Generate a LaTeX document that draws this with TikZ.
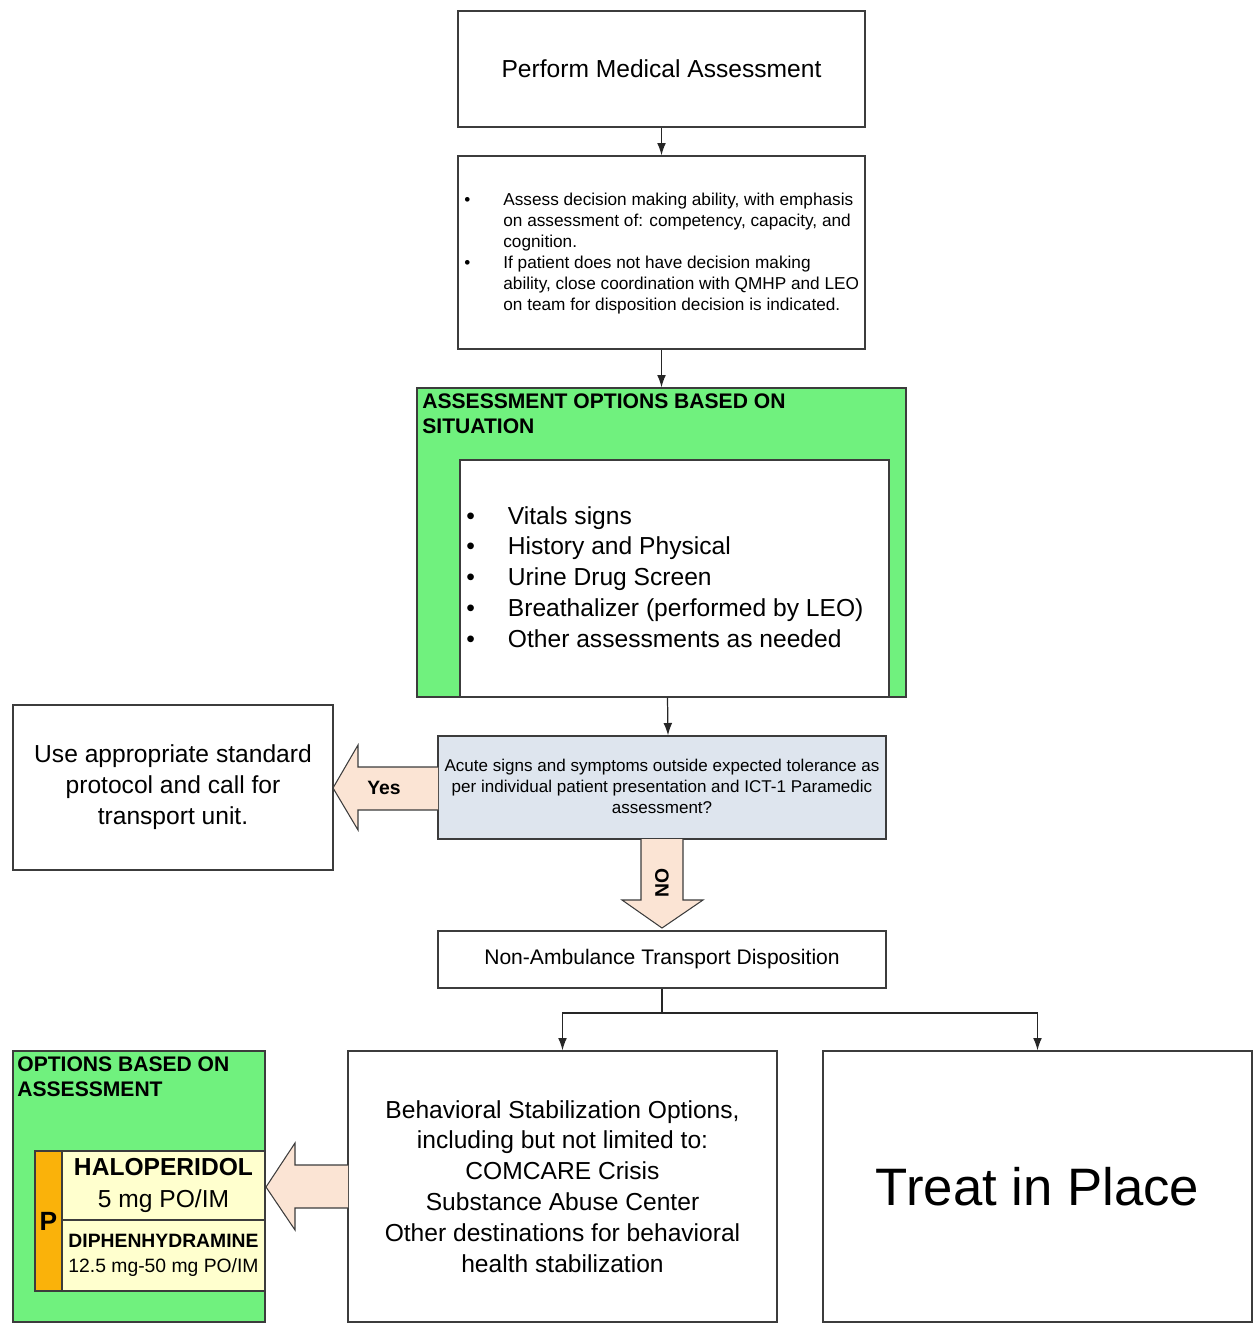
\documentclass[tikz,border=0pt]{standalone}
\usepackage{fontspec}
\setmainfont{Liberation Sans}
\usepackage{array}
\usetikzlibrary{arrows.meta}
\definecolor{optgreen}{RGB}{112,241,126}
\definecolor{askblue}{RGB}{222,229,238}
\definecolor{peach}{RGB}{251,228,212}
\definecolor{cream}{RGB}{255,255,206}
\definecolor{orangebar}{RGB}{250,178,10}
\definecolor{edge}{RGB}{60,60,60}

\tikzstyle{box} = [rectangle,draw=edge,line width=0.8pt,fill=white,inner sep=0pt]
\tikzstyle{greenbox} = [rectangle,draw=edge,line width=0.8pt,fill=optgreen,inner sep=0pt]
\tikzstyle{blockarrow} = [draw=edge,line width=0.6pt,fill=peach]
\tikzstyle{flow} = [-{Latex[length=7pt,width=5pt]},line width=0.7pt,color=black!85]

\begin{document}
\begin{tikzpicture}[x=0.02cm,y=-0.02cm]
	\useasboundingbox (0,0) rectangle (1259,1331);
	% top of the chart
	\node[box,minimum width=8.14cm,minimum height=2.32cm,font=\fontsize{14}{17}\selectfont] (perf) at (661.5,69) {Perform Medical Assessment};
	\node[box,minimum width=8.14cm,minimum height=3.86cm] (decide) at (661.5,252.5) {};
	\node[anchor=north west,inner sep=0pt] (decidet) at (464,191) {\fontsize{9.8}{11.9}\selectfont
		\begin{tabular}{@{}l@{\hspace{0.66cm}}>{\raggedright\arraybackslash}p{7.4cm}@{}}
		\textbullet & Assess decision making ability, with emphasis\newline on assessment of: competency, capacity, and\newline cognition.\\
		\textbullet & If patient does not have decision making\newline ability, close coordination with QMHP and LEO\newline on team for disposition decision is indicated.
		\end{tabular}};
	% assessment options
	\node[greenbox,minimum width=9.78cm,minimum height=6.18cm] (sit) at (661.5,542.5) {};
	\node[anchor=north west,inner sep=0pt,align=left,font=\fontsize{12}{14.5}\selectfont\bfseries] (sitt) at (422,393) {ASSESSMENT OPTIONS BASED ON\\SITUATION};
	\node[box,minimum width=8.58cm,minimum height=4.74cm] (list) at (674.5,578.5) {};
	\node[anchor=north west,inner sep=0pt] (listt) at (466,502) {\fontsize{14}{17.6}\selectfont
		\begin{tabular}{@{}l@{\hspace{0.66cm}}l@{}}
		\textbullet & Vitals signs\\
		\textbullet & History and Physical\\
		\textbullet & Urine Drug Screen\\
		\textbullet & Breathalizer (performed by LEO)\\
		\textbullet & Other assessments as needed
		\end{tabular}};
	% decision
	\node[box,fill=askblue,minimum width=8.96cm,minimum height=2.06cm] (acute) at (662,787.5) {};
	\node[align=center,inner sep=0pt,font=\fontsize{9.7}{11.9}\selectfont] (acutet) at (662,786) {Acute signs and symptoms outside expected tolerance as\\per individual patient presentation and ICT-1 Paramedic\\assessment?};
	\node[box,minimum width=6.4cm,minimum height=3.3cm,align=center,font=\fontsize{14}{17.6}\selectfont] (proto) at (173,787.5) {Use appropriate standard\\protocol and call for\\transport unit.};
	\draw[blockarrow] (438,767) -- (358,767) -- (358,745) -- (333,788) -- (358,830) -- (358,810) -- (438,810);
	\node[font=\bfseries\fontsize{11}{13}\selectfont] (yes) at (384,788) {Yes};
	\draw[blockarrow] (641,839) -- (641,900) -- (622,900) -- (662,928) -- (703,900) -- (683,900) -- (683,839);
	\node[rotate=90,font=\bfseries\fontsize{11}{13}\selectfont] (no) at (662,883) {NO};
	\node[box,minimum width=8.96cm,minimum height=1.14cm,font=\fontsize{12}{14}\selectfont] (nonamb) at (662,959.5) {Non-Ambulance Transport Disposition};
	% bottom row
	\node[box,minimum width=8.58cm,minimum height=5.42cm,align=center,font=\fontsize{14}{17.6}\selectfont] (behav) at (562.5,1186.5) {Behavioral Stabilization Options,\\including but not limited to:\\COMCARE Crisis\\Substance Abuse Center\\Other destinations for behavioral\\health stabilization};
	\node[box,minimum width=8.58cm,minimum height=5.42cm,font=\fontsize{30}{36}\selectfont] (treat) at (1037.5,1186.5) {Treat in Place};
	\node[greenbox,minimum width=5.04cm,minimum height=5.42cm] (opt) at (139,1186.5) {};
	\node[anchor=north west,inner sep=0pt,align=left,font=\fontsize{12}{14.5}\selectfont\bfseries] (optt) at (17,1056) {OPTIONS BASED ON\\ASSESSMENT};
	\node[box,fill=orangebar,minimum width=0.54cm,minimum height=2.8cm,font=\fontsize{15}{17}\selectfont\bfseries] (pbar) at (48.5,1221) {P};
	\node[box,fill=cream,minimum width=4.06cm,minimum height=1.38cm,align=center,font=\fontsize{14}{17}\selectfont] (halo) at (163.5,1185.5) {\bfseries HALOPERIDOL\\[1pt]5 mg PO/IM};
	\node[box,fill=cream,minimum width=4.06cm,minimum height=1.42cm,align=center,font=\fontsize{11}{13}\selectfont] (diph) at (163.5,1255.5) {\fontsize{11}{13}\selectfont\bfseries DIPHENHYDRAMINE\\[1.5pt]12.5 mg-50 mg PO/IM};
	\draw[blockarrow] (348,1165) -- (295,1165) -- (295,1143) -- (266,1187) -- (295,1230) -- (295,1208) -- (348,1208);
	% connectors
	\coordinate (split) at (662,1013);
	\draw[flow] (perf) -- (decide);
	\draw[flow] (decide) -- (sit);
	\draw[flow] ([xshift=0.12cm]sit.south) -- ([xshift=0.12cm]acute.north);
	\draw[line width=0.7pt,color=black!85] (nonamb) -- (split);
	\draw[flow] (split) -| (behav.north);
	\draw[flow] (split) -| (treat.north);
\end{tikzpicture}
\end{document}
